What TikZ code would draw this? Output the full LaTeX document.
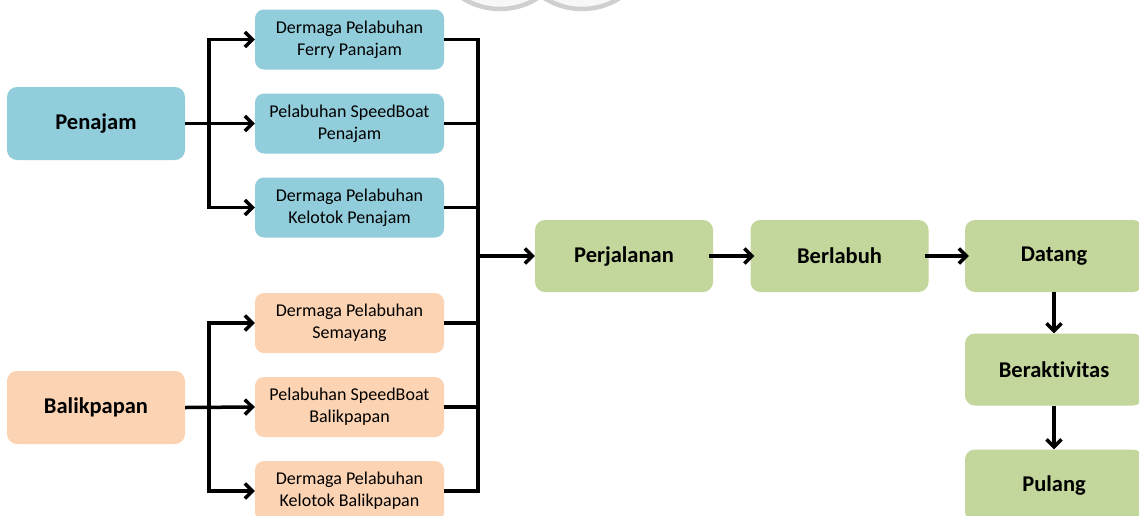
\documentclass[tikz,border=0pt]{standalone}
\usepackage{fontspec}
\setmainfont{Carlito}[Ligatures=NoCommon]
\usetikzlibrary{arrows.meta}
\definecolor{bluebox}{HTML}{92CDDC}
\definecolor{peachbox}{HTML}{FCD3B3}
\definecolor{greenbox}{HTML}{C3D69B}
\definecolor{markgray}{HTML}{CFCFCF}

\tikzset{
  origin/.style={rectangle, rounded corners=10pt, inner sep=0pt,
    minimum width=178pt, minimum height=73pt,
    font=\fontsize{22.5}{27}\selectfont\bfseries},
  port/.style={rectangle, rounded corners=9pt, inner sep=0pt, align=center,
    minimum width=189pt, minimum height=60pt,
    font=\fontsize{18}{22}\selectfont},
  stage/.style={rectangle, rounded corners=10pt, inner sep=0pt, fill=greenbox,
    minimum width=178pt, minimum height=72pt,
    font=\fontsize{22.5}{27}\selectfont\bfseries},
  link/.style={line width=3.5pt, draw=black},
  flow/.style={link, -{Straight Barb[length=7.5pt,width=15pt]}},
  overlap/.style={shorten <=-4pt, shorten >=-4pt},
  logomark/.style={draw=markgray, line width=4.5pt, fill=gray!6}
}

\begin{document}
\begin{tikzpicture}[x=1pt,y=-1pt]
\useasboundingbox (0,0) rectangle (1139,515);
\fill[white] (0,0) rectangle (1139,515);

% faint logo at the top edge
\begin{scope}
  \clip (440,0) rectangle (660,20);
  \path[logomark] (500,-61) circle[radius=70pt];
  \path[logomark] (582,-61) circle[radius=70pt];
\end{scope}

% origins
\node[origin, fill=bluebox]  (pen) at (96,123.5) {Penajam};
\node[origin, fill=peachbox] (bpn) at (96,407.5) {Balikpapan};

% ports
\node[port, fill=bluebox]  (p1) at (349.5,39.5)  {Dermaga Pelabuhan\\Ferry Panajam};
\node[port, fill=bluebox]  (p2) at (349.5,123.5) {Pelabuhan SpeedBoat\\Penajam};
\node[port, fill=bluebox]  (p3) at (349.5,207.5) {Dermaga Pelabuhan\\Kelotok Penajam};
\node[port, fill=peachbox] (p4) at (349.5,323)   {Dermaga Pelabuhan\\Semayang};
\node[port, fill=peachbox] (p5) at (349.5,407)   {Pelabuhan SpeedBoat\\Balikpapan};
\node[port, fill=peachbox] (p6) at (349.5,491)   {Dermaga Pelabuhan\\Kelotok Balikpapan};

% stages
\node[stage] (perj) at (624,256)    {Perjalanan};
\node[stage] (berl) at (839.5,256)  {Berlabuh};
\node[stage] (dat)  at (1054,256)   {Datang};
\node[stage] (akt)  at (1054,369.5) {Beraktivitas};
\node[stage] (pul)  at (1054,485.5) {Pulang};

% junctions
\coordinate (jp) at (209,123.5);
\coordinate (jb) at (209,407);
\coordinate (jr) at (478,256);

% Penajam fan-out
\draw[flow] (pen.east) -- (p2.west);
\draw[flow] (jp|-p3.west) -- (jp|-p1.west) -- (p1.west);
\draw[flow] (jp|-p1.west) -- (jp|-p3.west) -- (p3.west);

% Balikpapan fan-out
\draw[flow] (bpn.east) -- (p5.west);
\draw[flow] (jb|-p6.west) -- (jb|-p4.west) -- (p4.west);
\draw[flow] (jb|-p4.west) -- (jb|-p6.west) -- (p6.west);

% collector into the journey
\draw[link] (p1.east) -- (jr|-p1.east) -- (jr|-p6.east) -- (p6.east);
\draw[link] (p2.east) -- (jr|-p2.east);
\draw[link] (p3.east) -- (jr|-p3.east);
\draw[link] (p4.east) -- (jr|-p4.east);
\draw[link] (p5.east) -- (jr|-p5.east);
\draw[flow] (jr) -- (perj.west);

% main sequence
\draw[flow, overlap] (perj.east) -- (berl.west);
\draw[flow, overlap] (berl.east) -- (dat.west);
\draw[flow] (dat.south) -- (akt.north);
\draw[flow] (akt.south) -- (pul.north);
\end{tikzpicture}
\end{document}
